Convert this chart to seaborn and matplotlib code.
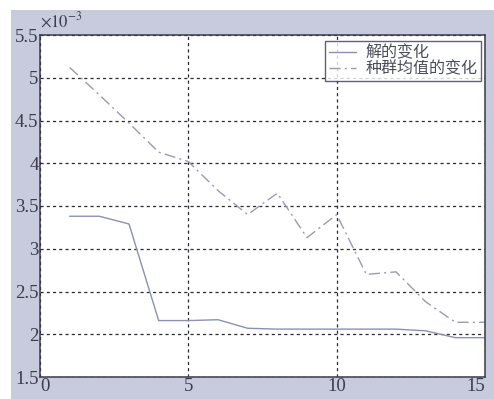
import matplotlib
matplotlib.use("Agg")
import matplotlib.pyplot as plt
import seaborn as sns
import pandas as pd
from matplotlib.patches import Rectangle

# iteration numbers and the two tracked quantities (units of 1e-3)
generations = list(range(1, 16))
best_solution = [3.38, 3.38, 3.29, 2.16, 2.16, 2.17, 2.07, 2.06, 2.06, 2.06, 2.06, 2.06, 2.04, 1.96, 1.96]
population_mean = [5.12, 4.80, 4.47, 4.13, 4.02, 3.68, 3.40, 3.65, 3.13, 3.40, 2.70, 2.73, 2.38, 2.14, 2.14]
series_names = ["解的变化", "种群均值的变化"]
x_ticks = [0, 5, 10, 15]
y_ticks = [1.5, 2, 2.5, 3, 3.5, 4, 4.5, 5, 5.5]

df = pd.DataFrame({
    "gen": generations * 2,
    "value": best_solution + population_mean,
    "series": [series_names[0]] * len(generations) + [series_names[1]] * len(generations),
})

sns.set_style("white")
plt.rcParams["font.family"] = ["Liberation Serif", "Noto Sans CJK SC", "DejaVu Sans"]
plt.rcParams["mathtext.fontset"] = "stix"

bg = "#c7cbdd"
fig = plt.figure(figsize=(4.94, 3.99), dpi=100, facecolor=bg)
# white margins along the top and left edges of the figure
fig.patches.append(Rectangle((0, 1 - 10 / 399), 1, 10 / 399, transform=fig.transFigure,
                             facecolor="white", edgecolor="none", zorder=0))
fig.patches.append(Rectangle((0, 0), 11 / 494, 1, transform=fig.transFigure,
                             facecolor="white", edgecolor="none", zorder=0))

ax = fig.add_axes([40 / 494, 1 - 377 / 399, 445 / 494, 342 / 399])
ax.set_facecolor("white")

sns.lineplot(data=df, x="gen", y="value", hue="series", style="series",
             palette={series_names[0]: "#8c90b4", series_names[1]: "#9a9cae"},
             dashes={series_names[0]: "", series_names[1]: (8, 3, 1.5, 3)},
             linewidth=1.0, ax=ax, legend=True)

ax.set_xlim(0, 15)
ax.set_ylim(1.5, 5.5)
ax.set_xticks(x_ticks)
ax.set_yticks(y_ticks)
ax.set_xticklabels([f"{t:g}" for t in x_ticks])
ax.set_yticklabels([f"{t:g}" for t in y_ticks])
ax.set_xlabel("")
ax.set_ylabel("")

ax.grid(True, color="#2a2a33", linestyle=(0, (2.5, 2.5)), linewidth=0.9)
ax.set_axisbelow(True)
for s in ax.spines.values():
    s.set_color("#3a3c4a")
    s.set_linewidth(1.1)

ax.tick_params(axis="both", direction="in", length=4, labelsize=13.5, color="#3a3c4a",
               labelcolor="#3a3c4a")
ax.tick_params(axis="x", pad=1)
ax.tick_params(axis="y", pad=1)
# first x label sits just right of the lowest y label; last one stays inside the edge
xlabels = ax.get_xticklabels()
xlabels[0].set_horizontalalignment("left")
xlabels[0].set_x(-0.03)
xlabels[-1].set_horizontalalignment("right")
xlabels[-1].set_x(15.25)

ax.text(0.0, 1.012, r"$\times10^{-3}$", transform=ax.transAxes, fontsize=12,
        color="#3a3c4a", ha="left", va="bottom")

leg = ax.legend(loc="upper right", bbox_to_anchor=(0.99, 0.982), frameon=True,
                fancybox=False, prop={"family": ["Noto Sans CJK SC"], "size": 11.5},
                handlelength=1.7, borderpad=0.2, labelspacing=-0.05, handletextpad=0.6,
                borderaxespad=0.0)
leg.get_frame().set_edgecolor("#3a3c4a")
leg.get_frame().set_linewidth(1.0)
for t in leg.get_texts():
    t.set_color("#4a4c5a")

fig.savefig("out.png", dpi=100, facecolor=fig.get_facecolor())
